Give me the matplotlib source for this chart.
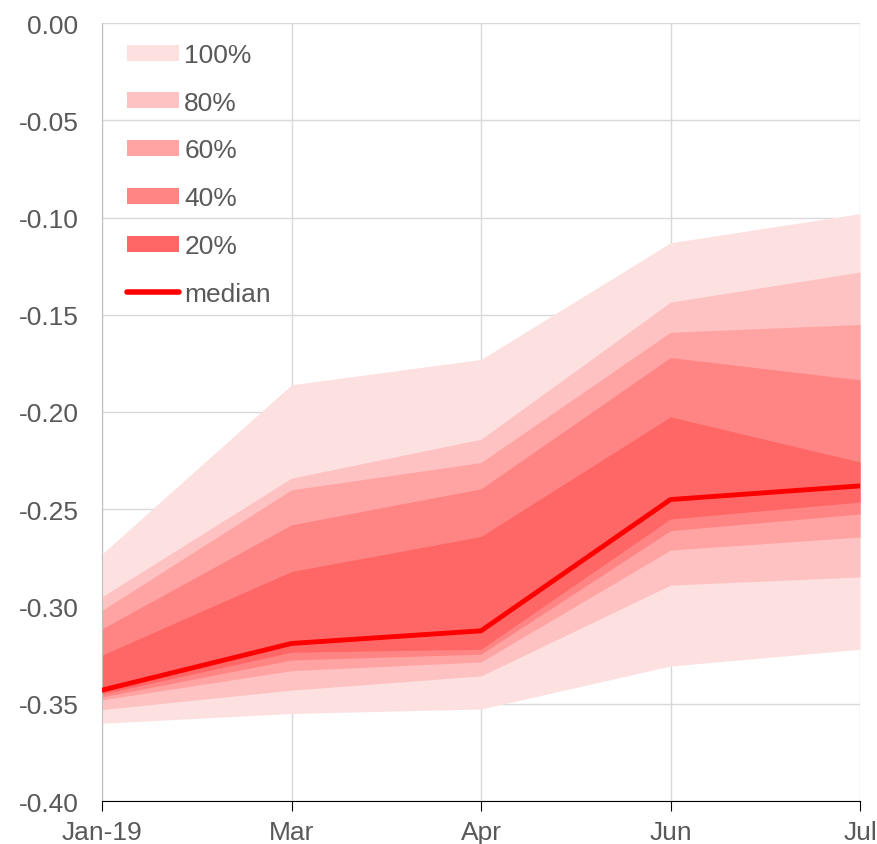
import matplotlib.pyplot as plt
from matplotlib.patches import Patch
from matplotlib.lines import Line2D

months = ['Jan-19', 'Mar', 'Apr', 'Jun', 'Jul']

# band edges (upper / lower), one list per band
upper_100 = [-0.273, -0.186, -0.173, -0.113, -0.098]
upper_80 = [-0.295, -0.234, -0.214, -0.1435, -0.128]
upper_60 = [-0.302, -0.240, -0.226, -0.159, -0.155]
upper_40 = [-0.3115, -0.258, -0.2395, -0.172, -0.1835]
upper_20 = [-0.325, -0.282, -0.264, -0.2025, -0.2257]
median = [-0.343, -0.319, -0.3125, -0.245, -0.238]
lower_20 = [-0.345, -0.3235, -0.322, -0.255, -0.2463]
lower_40 = [-0.3465, -0.3275, -0.3245, -0.261, -0.2524]
lower_60 = [-0.348, -0.333, -0.3285, -0.271, -0.2643]
lower_80 = [-0.353, -0.343, -0.3357, -0.289, -0.2848]
lower_100 = [-0.360, -0.355, -0.3527, -0.3306, -0.322]

band_labels = ['100%', '80%', '60%', '40%', '20%']
band_colors = ['#FDE0E0', '#FFC2C2', '#FFA3A3', '#FF8585', '#FF6666']


def main():
	plt.rcParams['font.family'] = ['Liberation Sans', 'DejaVu Sans']
	fig = plt.figure(figsize=(8.77, 8.45), dpi=100)
	ax = fig.add_axes([102/877, 1-802/845, (860-102)/877, (802-24)/845])

	x = list(range(len(months)))
	uppers = [upper_100, upper_80, upper_60, upper_40, upper_20]
	lowers = [lower_100, lower_80, lower_60, lower_40, lower_20]
	for up, lo, col in zip(uppers, lowers, band_colors):
		ax.fill_between(x, lo, up, color=col, linewidth=0, zorder=2)
	ax.plot(x, median, color='#FF0000', linewidth=3.5, solid_capstyle='round', zorder=3)

	ax.set_xlim(0, len(months)-1)
	ax.set_ylim(-0.40, 0.0)
	ax.set_yticks([-0.40, -0.35, -0.30, -0.25, -0.20, -0.15, -0.10, -0.05, 0.0])
	ax.set_yticklabels(['%.2f' % v for v in ax.get_yticks()])
	ax.set_xticks(x)
	ax.set_xticklabels(months)
	ax.grid(True, color='#D9D9D9', linewidth=1, zorder=0)
	ax.set_axisbelow(True)
	for s in ['top', 'right']:
		ax.spines[s].set_visible(False)
	ax.spines['left'].set_color('#BFBFBF')
	ax.spines['bottom'].set_color('#000000')
	ax.tick_params(axis='y', length=0, pad=17, labelsize=19, labelcolor='#595959')
	ax.tick_params(axis='x', length=7, direction='out', pad=7, labelsize=19,
				   labelcolor='#595959', color='#000000')

	handles = [Patch(facecolor=c, edgecolor='none') for c in band_colors]
	handles.append(Line2D([0], [0], color='#FF0000', linewidth=4, solid_capstyle='round'))
	leg = ax.legend(handles, band_labels + ['median'], loc='upper left',
					bbox_to_anchor=(25/758, 1-20/778), frameon=False, fontsize=19,
					handlelength=1.97, handleheight=0.55, handletextpad=0.2,
					labelspacing=0.9, borderaxespad=0, borderpad=0)
	for t in leg.get_texts():
		t.set_color('#595959')

	fig.savefig('out.png', dpi=100)


if __name__ == "__main__":
	main()
